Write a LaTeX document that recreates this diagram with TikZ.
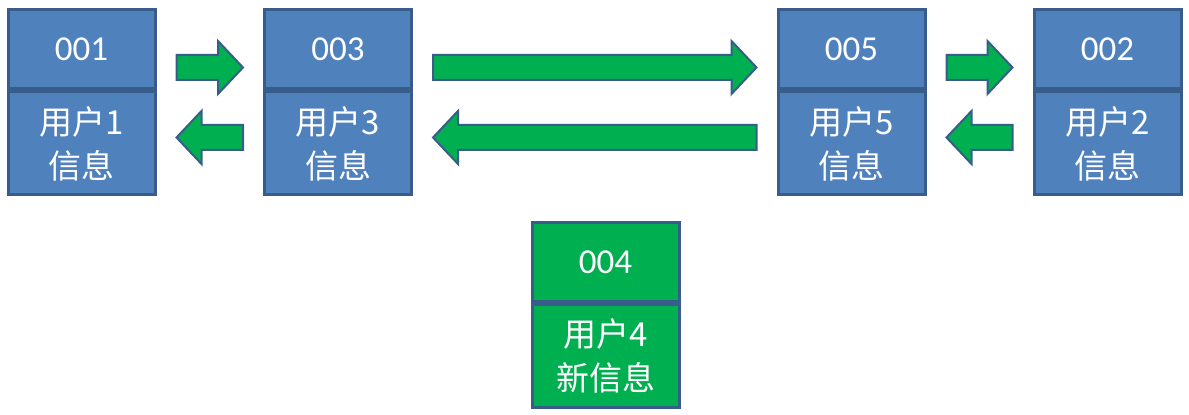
\documentclass[tikz,border=0pt]{standalone}
\usepackage{fontspec}
\setmainfont{Carlito}
\newfontfamily\cjk{Noto Sans CJK SC}
\usetikzlibrary{calc}

\definecolor{boxblue}{HTML}{4F81BD}
\definecolor{boxline}{HTML}{385D8A}
\definecolor{newgreen}{HTML}{00B050}

\tikzset{
  cell/.style={rectangle,draw=boxline,line width=1.5pt,fill=boxblue,text=white,
    minimum width=73.5pt,inner sep=0pt},
  idcell/.style={cell,minimum height=39.5pt,font=\fontsize{17.5}{19}\selectfont},
  infocell/.style={cell,minimum height=51.5pt,align=center,
    font=\cjk\fontsize{16.5}{22}\selectfont},
  newbox/.style={fill=newgreen},
  blockarr/.style={draw=boxline,fill=newgreen,line width=1pt}
}

% fat arrow from #1 to #2
\newcommand{\blockarrow}[2]{%
  \coordinate (ah) at ($(#2)!12.5pt!(#1)$);
  \path[blockarr] ($(#1)!6.25pt!90:(#2)$) -- ($(ah)!6.25pt!90:(#2)$)
    -- ($(ah)!13.25pt!90:(#2)$) -- (#2) -- ($(ah)!13.25pt!-90:(#2)$)
    -- ($(ah)!6.25pt!-90:(#2)$) -- ($(#1)!6.25pt!-90:(#2)$) -- cycle;
}

\begin{document}
\begin{tikzpicture}[x=0.5pt,y=-0.5pt]
  \useasboundingbox (0,0) rectangle (1189,415);

  \node (n001) [idcell] at (81.5,49.5) {001};
  \node (n003) [idcell] at (338,49.5) {003};
  \node (n005) [idcell] at (851.5,49.5) {005};
  \node (n002) [idcell] at (1107.5,49.5) {002};
  \node (n004) [idcell,newbox] at (605.5,262) {004};

  \node (u1) [infocell,anchor=north] at (n001.south) {用户1\\信息};
  \node (u3) [infocell,anchor=north] at (n003.south) {用户3\\信息};
  \node (u5) [infocell,anchor=north] at (n005.south) {用户5\\信息};
  \node (u2) [infocell,anchor=north] at (n002.south) {用户2\\信息};
  \node (u4) [infocell,newbox,anchor=north] at (n004.south) {用户4\\新信息};

  \coordinate (r13a) at ($(n001.east)+(20,18)$);
  \coordinate (r13b) at ($(n003.west)+(-20,18)$);
  \coordinate (r35a) at ($(n003.east)+(20,18)$);
  \coordinate (r35b) at ($(n005.west)+(-20,18)$);
  \coordinate (r52a) at ($(n005.east)+(20,18)$);
  \coordinate (r52b) at ($(n002.west)+(-20,18)$);
  \coordinate (l31a) at ($(u3.west)+(-20,-6)$);
  \coordinate (l31b) at ($(u1.east)+(20,-6)$);
  \coordinate (l53a) at ($(u5.west)+(-20,-6)$);
  \coordinate (l53b) at ($(u3.east)+(20,-6)$);
  \coordinate (l25a) at ($(u2.west)+(-20,-6)$);
  \coordinate (l25b) at ($(u5.east)+(20,-6)$);

  \blockarrow{r13a}{r13b}
  \blockarrow{r35a}{r35b}
  \blockarrow{r52a}{r52b}
  \blockarrow{l31a}{l31b}
  \blockarrow{l53a}{l53b}
  \blockarrow{l25a}{l25b}
\end{tikzpicture}
\end{document}
